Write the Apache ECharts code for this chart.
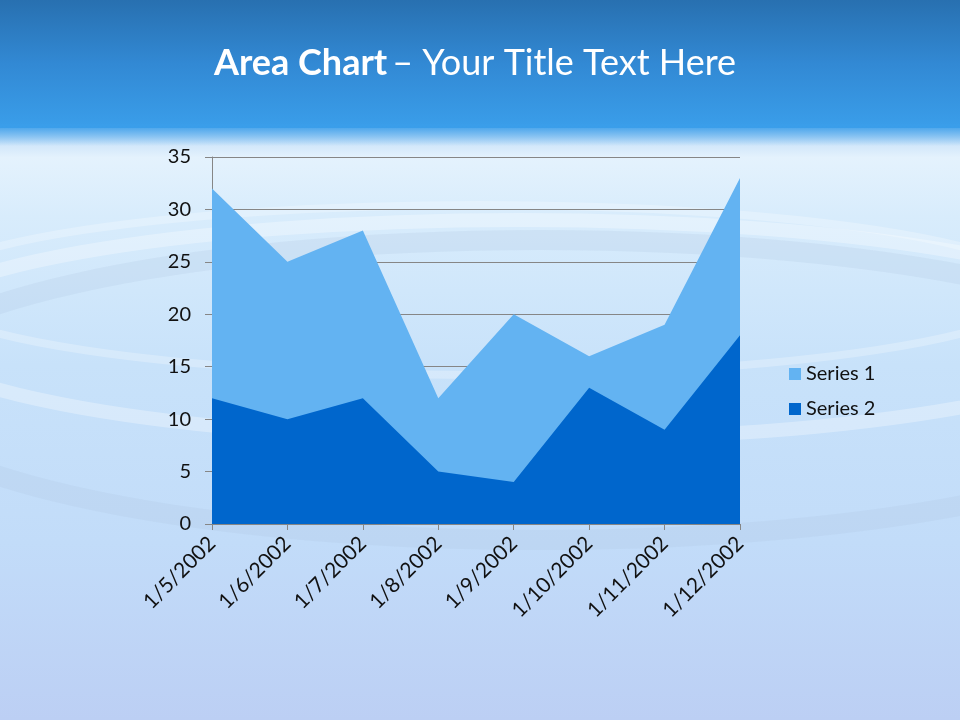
<!DOCTYPE html>
<html><head><meta charset="utf-8">
<script src="https://cdn.jsdelivr.net/npm/echarts@6/dist/echarts.min.js"></script>
<style>html,body{margin:0;padding:0;}#c{width:960px;height:720px;}</style>
</head><body><div id="c"></div>
<script>
var categories = ['1/5/2002','1/6/2002','1/7/2002','1/8/2002','1/9/2002','1/10/2002','1/11/2002','1/12/2002'];
var series1 = [32, 25, 28, 12, 20, 16, 19, 33];
var series2 = [12, 10, 12, 5, 4, 13, 9, 18];
var seriesNames = ['Series 1', 'Series 2'];

var chart = echarts.init(document.getElementById('c'));
var F = 'Lato, "Open Sans", sans-serif';
chart.setOption({
  backgroundColor: '#c4dcf8',
  graphic: [
    {type:'rect', z:-100, silent:true, shape:{x:0,y:128,width:960,height:592},
     style:{fill:{type:'linear',x:0,y:0,x2:0,y2:1,colorStops:[
       {offset:0,color:'#b8d8f6'},{offset:0.05,color:'#e4f2fd'},{offset:0.15,color:'#d8ecfc'},
       {offset:0.4,color:'#c8e2fa'},{offset:0.7,color:'#c2dcf9'},{offset:1,color:'#bccff4'}]}}},
    {type:'ellipse', z:-99, silent:true, shape:{cx:520,cy:330,rx:620,ry:110},
     style:{fill:'none',stroke:'rgba(255,255,255,0.3)',lineWidth:14}},
    {type:'ellipse', z:-99, silent:true, shape:{cx:540,cy:390,rx:660,ry:150},
     style:{fill:'none',stroke:'rgba(175,195,225,0.22)',lineWidth:20}},
    {type:'ellipse', z:-99, silent:true, shape:{cx:480,cy:290,rx:560,ry:85},
     style:{fill:'none',stroke:'rgba(255,255,255,0.25)',lineWidth:8}},
    {type:'rect', z:-98, silent:true, shape:{x:0,y:0,width:960,height:128},
     style:{fill:{type:'linear',x:0,y:0,x2:0,y2:1,colorStops:[
       {offset:0,color:'#2870b0'},{offset:0.5,color:'#3289d4'},{offset:1,color:'#3a9eea'}]}}},
    {type:'rect', z:-97, silent:true, shape:{x:0,y:124,width:960,height:22},
     style:{fill:{type:'linear',x:0,y:0,x2:0,y2:1,colorStops:[
       {offset:0,color:'rgba(58,158,234,1)'},{offset:1,color:'rgba(58,158,234,0)'}]}}}
  ],
  title: {
    text: '{b|Area Chart} {n|– Your Title Text Here}',
    left: 470, top: 40, textAlign: 'center',
    textStyle: { rich: {
      b: {fontFamily: F, fontSize: 36, fontWeight: 'bold', color: '#ffffff'},
      n: {fontFamily: F, fontSize: 36, fontWeight: 'normal', color: '#ffffff'}
    }}
  },
  legend: {
    orient: 'vertical', left: 784, top: 359, itemWidth: 12, itemHeight: 12, itemGap: 15,
    icon: 'rect', data: seriesNames,
    textStyle: {fontFamily: F, fontSize: 20, color: '#111'}
  },
  grid: {left: 212, right: 220, top: 157, bottom: 196},
  xAxis: {
    type: 'category', data: categories, boundaryGap: false,
    axisLine: {lineStyle: {color: '#868686', width: 1}},
    axisTick: {show: true, length: 6, alignWithLabel: true, lineStyle: {color: '#868686'}},
    axisLabel: {rotate: 45, margin: 16, fontFamily: F, fontSize: 21, color: '#111', interval: 0}
  },
  yAxis: {
    type: 'value', min: 0, max: 35, interval: 5,
    axisLine: {show: true, lineStyle: {color: '#868686', width: 1}},
    axisTick: {show: true, length: 7, lineStyle: {color: '#868686'}},
    axisLabel: {margin: 21, fontFamily: F, fontSize: 20, color: '#111'},
    splitLine: {lineStyle: {color: '#868686', width: 1}}
  },
  series: [
    {name: seriesNames[0], type: 'line', data: series1, symbol: 'none',
     lineStyle: {width: 0}, itemStyle: {color: '#63b3f2'}, areaStyle: {color: '#63b3f2', opacity: 1}},
    {name: seriesNames[1], type: 'line', data: series2, symbol: 'none',
     lineStyle: {width: 0}, itemStyle: {color: '#0066cc'}, areaStyle: {color: '#0066cc', opacity: 1}}
  ]
});
</script></body></html>
